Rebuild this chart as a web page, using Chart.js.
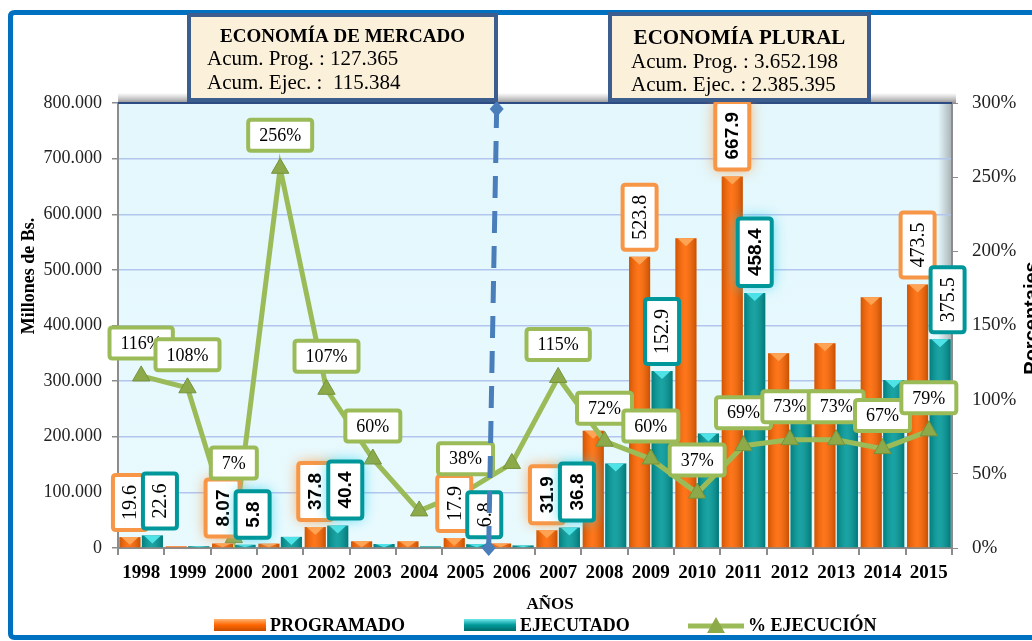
<!DOCTYPE html>
<html>
<head>
<meta charset="utf-8">
<script src="https://cdn.jsdelivr.net/npm/chart.js@4.4.1/dist/chart.umd.min.js"></script>
<style>
html, body { margin: 0; padding: 0; background: #fff; }
</style>
</head>
<body>
<canvas id="myChart" width="1032" height="641"></canvas>
<script>
// Data (millones de Bs. and %)
const years = ['1998', '1999', '2000', '2001', '2002', '2003', '2004', '2005', '2006',
    '2007', '2008', '2009', '2010', '2011', '2012', '2013', '2014', '2015'];
const programado = [19600, 3000, 8070, 7800, 37800, 12000, 12000, 17900, 8000,
    31900, 211000, 523800, 557000, 667900, 350000, 368000, 451000, 473500];
const ejecutado = [22600, 3200, 5800, 20000, 40400, 7200, 3000, 6800, 4600,
    36800, 152000, 318000, 206000, 458400, 255000, 268000, 302000, 375500];
const pctEjecucion = [116, 108, 7, 256, 107, 60, 25, 38, 57,
    115, 72, 60, 37, 69, 73, 73, 67, 79];

// Label texts as shown on the picture
const progLabels = ['19.6', null, '8.07', null, '37.8', null, null, '17.9', null,
    '31.9', null, '523.8', null, '667.9', null, null, null, '473.5'];
const ejecLabels = ['22.6', null, '5.8', null, '40.4', null, null, '6.8', null,
    '36.8', null, '152.9', null, '458.4', null, null, null, '375.5'];
const pctLabels = ['116%', '108%', '7%', '256%', '107%', '60%', null, '38%', null,
    '115%', '72%', '60%', '37%', '69%', '73%', '73%', '67%', '79%'];
const highlightedYears = ['2000', '2002', '2007', '2011'];

const leftTicks = [0, 100000, 200000, 300000, 400000, 500000, 600000, 700000, 800000];
const rightTicks = [0, 50, 100, 150, 200, 250, 300];

const boxMercado = ['ECONOMÍA DE MERCADO', 'Acum. Prog. : 127.365', 'Acum. Ejec. :  115.384'];
const boxPlural = ['ECONOMÍA PLURAL', 'Acum. Prog. : 3.652.198', 'Acum. Ejec. : 2.385.395'];

const SERIF = "'Liberation Serif', 'Times New Roman', serif";
const SANS = "'Liberation Sans', Arial, sans-serif";
const ORANGE = '#FF6600';
const TEAL = '#009999';
const GREEN = '#9BBB59';

function fmtMiles(v) {
    return String(v).replace(/\B(?=(\d{3})+(?!\d))/g, '.');
}

function roundRect(ctx, x, y, w, h, r) {
    ctx.beginPath();
    ctx.moveTo(x + r, y);
    ctx.lineTo(x + w - r, y);
    ctx.quadraticCurveTo(x + w, y, x + w, y + r);
    ctx.lineTo(x + w, y + h - r);
    ctx.quadraticCurveTo(x + w, y + h, x + w - r, y + h);
    ctx.lineTo(x + r, y + h);
    ctx.quadraticCurveTo(x, y + h, x, y + h - r);
    ctx.lineTo(x, y + r);
    ctx.quadraticCurveTo(x, y, x + r, y);
    ctx.closePath();
}

// box for a vertical bar label, sitting above the bar top
function barLabelBox(ctx, bar, text, bold) {
    ctx.font = (bold ? 'bold 19px ' + SANS : '20px ' + SERIF);
    const len = ctx.measureText(text).width + 20;
    const w = 34;
    const bottom = bar.y - 7;
    return { x: bar.x - w / 2, y: bottom - len, w: w, h: len, text: text, bold: bold };
}

function drawBarLabel(ctx, b, border, glow) {
    ctx.save();
    if (b.bold) {
        ctx.shadowColor = glow;
        ctx.shadowBlur = 14;
    }
    roundRect(ctx, b.x, b.y, b.w, b.h, 3);
    ctx.fillStyle = '#fff';
    ctx.fill();
    ctx.shadowBlur = 0;
    ctx.lineWidth = 4;
    ctx.strokeStyle = border;
    ctx.stroke();
    ctx.translate(b.x + b.w / 2, b.y + b.h / 2);
    ctx.rotate(-Math.PI / 2);
    ctx.font = (b.bold ? 'bold 19px ' + SANS : '20px ' + SERIF);
    ctx.fillStyle = '#000';
    ctx.textAlign = 'center';
    ctx.textBaseline = 'middle';
    ctx.fillText(b.text, 0, 1);
    ctx.restore();
}

function drawInfoBox(ctx, x, y, w, h, lines, titleSize, lineX, baselines) {
    ctx.save();
    ctx.fillStyle = '#FBF0DA';
    ctx.fillRect(x, y, w, h);
    ctx.lineWidth = 4;
    ctx.strokeStyle = '#3B5E8E';
    ctx.strokeRect(x, y, w, h);
    ctx.fillStyle = '#000';
    ctx.textBaseline = 'alphabetic';
    ctx.textAlign = 'center';
    ctx.font = 'bold ' + titleSize + 'px ' + SERIF;
    ctx.fillText(lines[0], x + w / 2, baselines[0]);
    ctx.textAlign = 'left';
    ctx.font = '21px ' + SERIF;
    ctx.fillText(lines[1], lineX, baselines[1]);
    ctx.fillText(lines[2], lineX, baselines[2]);
    ctx.restore();
}

const decorPlugin = {
    id: 'decor',
    beforeDraw(chart) {
        const ctx = chart.ctx;
        const a = chart.chartArea;
        ctx.save();
        ctx.fillStyle = '#fff';
        ctx.fillRect(0, 0, chart.width, chart.height);
        // frame
        ctx.lineWidth = 5;
        ctx.strokeStyle = '#0070C0';
        roundRect(ctx, 10.5, 12.5, 1040, 625, 4);
        ctx.stroke();
        // 3d wall top edge
        let g = ctx.createLinearGradient(0, a.top - 10, 0, a.top);
        g.addColorStop(0, 'rgba(140,140,140,0)');
        g.addColorStop(1, 'rgba(120,120,120,0.8)');
        ctx.fillStyle = g;
        ctx.fillRect(a.left, a.top - 10, a.right - a.left + 4, 10);
        // plot background
        g = ctx.createLinearGradient(0, a.top, 0, a.bottom);
        g.addColorStop(0, '#E3F7FC');
        g.addColorStop(1, '#E9FAFE');
        ctx.fillStyle = g;
        ctx.fillRect(a.left, a.top, a.right - a.left, a.bottom - a.top);
        // right wall shading
        g = ctx.createLinearGradient(a.right - 14, 0, a.right, 0);
        g.addColorStop(0, 'rgba(120,120,120,0)');
        g.addColorStop(1, 'rgba(120,120,120,0.55)');
        ctx.fillStyle = g;
        ctx.fillRect(a.right - 14, a.top, 14, a.bottom - a.top);
        ctx.restore();
    },
    afterDatasetDraw(chart, args) {
        const ds = chart.data.datasets[args.index];
        if (ds.type === 'line') return;
        const ctx = chart.ctx;
        const cap = args.index === 1 ? '#FFA455' : '#4FE3E8';
        ctx.save();
        args.meta.data.forEach(function (bar) {
            const left = bar.x - bar.width / 2;
            const h = bar.base - bar.y;
            if (h < 1) return;
            const g = ctx.createLinearGradient(left, 0, left + bar.width, 0);
            g.addColorStop(0, 'rgba(0,0,0,0.18)');
            g.addColorStop(0.45, 'rgba(255,255,255,0.10)');
            g.addColorStop(1, 'rgba(0,0,0,0.22)');
            ctx.fillStyle = g;
            ctx.fillRect(left, bar.y, bar.width, h);
            // light cap
            const ch = Math.min(8, h);
            ctx.fillStyle = cap;
            ctx.beginPath();
            ctx.moveTo(left + 2, bar.y);
            ctx.lineTo(left + bar.width - 2, bar.y);
            ctx.lineTo(bar.x, bar.y + ch);
            ctx.closePath();
            ctx.fill();
        });
        ctx.restore();
    },
    afterDraw(chart) {
        const ctx = chart.ctx;
        const a = chart.chartArea;
        const x = chart.scales.x;
        const progMeta = chart.getDatasetMeta(1);
        const ejecMeta = chart.getDatasetMeta(2);
        const lineMeta = chart.getDatasetMeta(0);

        // top border of plot
        ctx.save();
        ctx.strokeStyle = '#2E4C84';
        ctx.lineWidth = 2;
        ctx.beginPath();
        ctx.moveTo(a.left, a.top);
        ctx.lineTo(a.right, a.top);
        ctx.stroke();
        ctx.restore();

        // bar labels
        const boxesByIndex = [];
        for (let i = 0; i < years.length; i++) {
            const bold = highlightedYears.indexOf(years[i]) >= 0;
            const boxes = [];
            let pb = null;
            if (progLabels[i]) {
                pb = barLabelBox(ctx, progMeta.data[i], progLabels[i], bold);
                drawBarLabel(ctx, pb, '#F79646', 'rgba(250,150,60,0.9)');
                boxes.push(pb);
            }
            if (ejecLabels[i]) {
                const b = barLabelBox(ctx, ejecMeta.data[i], ejecLabels[i], bold);
                // push aside when it would hide the programado label
                if (pb && b.y < pb.y + pb.h && b.y + b.h > pb.y) {
                    b.x = Math.max(b.x, pb.x + pb.w - 4);
                }
                drawBarLabel(ctx, b, '#00979A', 'rgba(40,210,240,0.9)');
                boxes.push(b);
            }
            boxesByIndex.push(boxes);
        }

        // percentage labels
        ctx.save();
        ctx.font = '18px ' + SERIF;
        for (let i = 0; i < years.length; i++) {
            if (!pctLabels[i]) continue;
            const p = lineMeta.data[i];
            const w = ctx.measureText(pctLabels[i]).width + 22;
            const h = 31;
            let top = p.y - 33 - h / 2;
            const left = p.x - w / 2;
            boxesByIndex[i].forEach(function (b) {
                const overlapX = left < b.x + b.w && left + w > b.x;
                const overlapY = top < b.y + b.h && top + h > b.y;
                if (overlapX && overlapY) top = Math.min(top, b.y - 1 - h);
            });
            roundRect(ctx, left, top, w, h, 3);
            ctx.fillStyle = '#fff';
            ctx.fill();
            ctx.lineWidth = 4;
            ctx.strokeStyle = GREEN;
            ctx.stroke();
            ctx.fillStyle = '#000';
            ctx.textAlign = 'center';
            ctx.textBaseline = 'middle';
            ctx.fillText(pctLabels[i], p.x, top + h / 2 + 1);
        }
        ctx.restore();

        // dashed divider between 2005 and 2006
        const xb = (x.getPixelForValue(7) + x.getPixelForValue(8)) / 2;
        const xt = xb + 8;
        const yt = a.top + 6;
        ctx.save();
        ctx.strokeStyle = '#4A7EBB';
        ctx.fillStyle = '#4A7EBB';
        ctx.lineWidth = 5;
        ctx.setLineDash([22, 13]);
        ctx.beginPath();
        ctx.moveTo(xb, a.bottom);
        ctx.lineTo(xt, yt);
        ctx.stroke();
        ctx.setLineDash([]);
        [[xb, a.bottom], [xt, yt]].forEach(function (pt) {
            ctx.beginPath();
            ctx.moveTo(pt[0], pt[1] - 8);
            ctx.lineTo(pt[0] + 7, pt[1]);
            ctx.lineTo(pt[0], pt[1] + 8);
            ctx.lineTo(pt[0] - 7, pt[1]);
            ctx.closePath();
            ctx.fill();
        });
        ctx.restore();

        // info boxes
        drawInfoBox(ctx, 189, 15, 307, 85, boxMercado, 19, 207, [42, 65, 89]);
        drawInfoBox(ctx, 610, 14, 259, 86, boxPlural, 21, 631, [44, 68, 91]);

        // axis titles
        ctx.save();
        ctx.fillStyle = '#000';
        ctx.translate(29, 276);
        ctx.rotate(-Math.PI / 2);
        ctx.font = 'bold 18px ' + SERIF;
        ctx.textAlign = 'center';
        ctx.textBaseline = 'middle';
        ctx.fillText('Millones de Bs.', 0, 0);
        ctx.restore();

        ctx.save();
        ctx.fillStyle = '#000';
        ctx.translate(1022, 318);
        ctx.rotate(-Math.PI / 2);
        ctx.font = 'bold 20px ' + SANS;
        ctx.textAlign = 'center';
        ctx.textBaseline = 'top';
        ctx.fillText('Porcentajes', 0, 0);
        ctx.restore();

        ctx.save();
        ctx.fillStyle = '#000';
        ctx.font = 'bold 17px ' + SERIF;
        ctx.textAlign = 'center';
        ctx.textBaseline = 'middle';
        ctx.fillText('AÑOS', 550, 605);

        // legend
        function swatch(x0, c1, c2, c3) {
            const g = ctx.createLinearGradient(0, 619, 0, 631);
            g.addColorStop(0, c1);
            g.addColorStop(0.5, c2);
            g.addColorStop(1, c3);
            ctx.fillStyle = g;
            ctx.fillRect(x0, 619, 52, 12);
        }
        swatch(214, '#FFB370', ORANGE, '#C84E00');
        swatch(464, '#6FE8EC', TEAL, '#006B6B');
        ctx.strokeStyle = GREEN;
        ctx.lineWidth = 5;
        ctx.beginPath();
        ctx.moveTo(688, 626);
        ctx.lineTo(744, 626);
        ctx.stroke();
        ctx.fillStyle = '#8DAA4B';
        ctx.beginPath();
        ctx.moveTo(716, 617);
        ctx.lineTo(725, 633);
        ctx.lineTo(707, 633);
        ctx.closePath();
        ctx.fill();

        ctx.fillStyle = '#000';
        ctx.font = 'bold 18px ' + SERIF;
        ctx.textAlign = 'left';
        ctx.fillText('PROGRAMADO', 270, 626);
        ctx.fillText('EJECUTADO', 520, 626);
        ctx.fillText('% EJECUCIÓN', 748, 626);
        ctx.restore();
    }
};

const data = {
    labels: years,
    datasets: [{
        type: 'line',
        label: '% EJECUCIÓN',
        data: pctEjecucion,
        yAxisID: 'y1',
        borderColor: GREEN,
        borderWidth: 5,
        tension: 0,
        pointStyle: 'triangle',
        pointRadius: 10,
        pointBackgroundColor: '#8DAA4B',
        pointBorderColor: '#76933C',
        pointBorderWidth: 1,
        order: 0
    }, {
        label: 'PROGRAMADO',
        data: programado,
        yAxisID: 'y',
        backgroundColor: ORANGE,
        categoryPercentage: 0.97,
        barPercentage: 0.94,
        order: 1
    }, {
        label: 'EJECUTADO',
        data: ejecutado,
        yAxisID: 'y',
        backgroundColor: TEAL,
        categoryPercentage: 0.97,
        barPercentage: 0.94,
        order: 2
    }]
};

const config = {
    type: 'bar',
    data: data,
    options: {
        responsive: false,
        animation: false,
        devicePixelRatio: 1,
        layout: { padding: { top: 103, left: 0, right: 0, bottom: 0 } },
        plugins: {
            legend: { display: false },
            tooltip: { enabled: false }
        },
        scales: {
            x: {
                grid: { drawOnChartArea: false, tickLength: 7, tickColor: '#8C8C8C', lineWidth: 2 },
                border: { color: '#8C8C8C', width: 2 },
                ticks: { color: '#000', padding: 7, maxRotation: 0, autoSkip: false,
                    font: { family: SERIF, size: 19, weight: 'bold' } },
                afterFit: function (s) { s.height = 93; }
            },
            y: {
                position: 'left',
                min: 0,
                max: 800000,
                afterBuildTicks: function (s) { s.ticks = leftTicks.map(v => ({ value: v })); },
                ticks: { color: '#222', padding: 10, callback: v => fmtMiles(v),
                    font: { family: SERIF, size: 18 } },
                grid: { color: '#B2C5EE', lineWidth: 1.5, tickColor: '#8C8C8C', tickLength: 6 },
                border: { color: '#8C8C8C', width: 2 },
                afterFit: function (s) { s.width = 118; }
            },
            y1: {
                position: 'right',
                min: 0,
                max: 300,
                afterBuildTicks: function (s) { s.ticks = rightTicks.map(v => ({ value: v })); },
                ticks: { color: '#222', padding: 14, callback: v => v + '%',
                    font: { family: SERIF, size: 19 } },
                grid: { drawOnChartArea: false, tickColor: '#8C8C8C', tickLength: 6 },
                border: { color: '#8C8C8C', width: 2 },
                afterFit: function (s) { s.width = 80; }
            }
        }
    },
    plugins: [decorPlugin]
};

const chart = new Chart(document.getElementById('myChart'), config);
</script>
</body>
</html>
